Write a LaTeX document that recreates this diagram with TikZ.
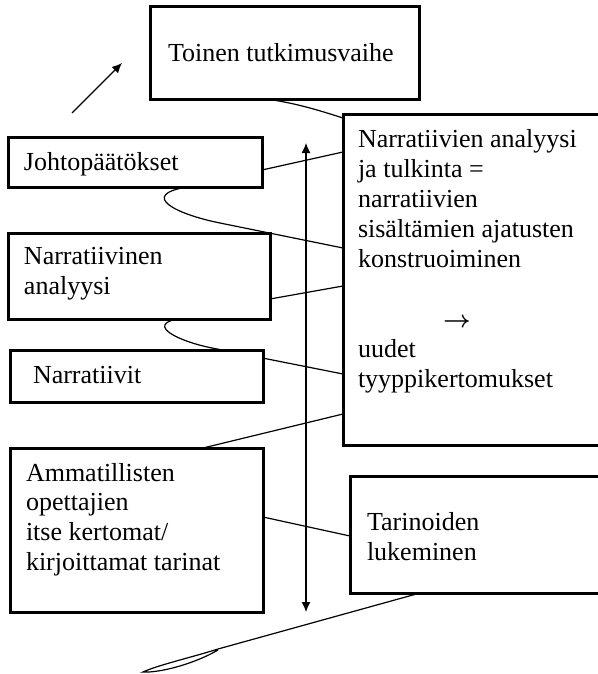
\documentclass[tikz,border=0pt]{standalone}
\usepackage{fontspec}
\setmainfont{Liberation Serif}
\usetikzlibrary{arrows.meta,calc,backgrounds}
\begin{document}
\begin{tikzpicture}[x=0.5pt,y=-0.5pt,
  box/.style={draw,line width=1.5pt,fill=white,rectangle,anchor=north west,inner sep=0pt,outer sep=0pt},
  txt/.style={anchor=base west,inner sep=0pt,outer sep=0pt,align=left,font=\fontsize{13}{14.8}\selectfont},
  conn/.style={line width=0.6pt},
  arr/.style={line width=0.6pt,-{Latex[length=5pt,width=4.5pt]}},
  darr/.style={line width=0.6pt,{Latex[length=5pt,width=4.5pt]}-{Latex[length=5pt,width=4.5pt]}}
]
\useasboundingbox (0,0) rectangle (598,674);
\clip (0,0) rectangle (598,674);

% boxes
\node[box,minimum width=134.5pt,minimum height=46.5pt] (toinen) at (150,7) {};
\node[box,minimum width=127pt,minimum height=25pt] (johto) at (8,137) {};
\node[box,minimum width=138.5pt,minimum height=165pt] (big) at (343,115) {};
\node[box,minimum width=131pt,minimum height=43pt] (narrativ) at (8,233) {};
\node[box,minimum width=126.5pt,minimum height=26pt] (narrit) at (10,350) {};
\node[box,minimum width=126.5pt,minimum height=82pt] (ammat) at (10,448) {};
\node[box,minimum width=135pt,minimum height=58.5pt] (tarin) at (350,476) {};

% texts (multi-line nodes are anchored at the baseline of their last line)
\node[txt] (t1) at (168,62) {Toinen tutkimusvaihe};
\node[txt] (t2) at (24,170) {Johtopäätökset};
\node[txt,font=\fontsize{13}{15}\selectfont] (t3) at (358,387) {Narratiivien analyysi\\ja tulkinta =\\narratiivien\\sisältämien ajatusten\\konstruoiminen\\[15pt]\hspace*{42.5pt}{\boldmath$\rightarrow$}\\uudet\\tyyppikertomukset};
\node[txt] (t4) at (24,294) {Narratiivinen\\analyysi};
\node[txt] (t5) at (33,383) {Narratiivit};
\node[txt] (t6) at (26,570) {Ammatillisten\\opettajien\\itse kertomat/\\kirjoittamat tarinat};
\node[txt] (t7) at (367,560) {Tarinoiden\\lukeminen};

% free points
\coordinate (kink) at (218,649);
\coordinate (tip) at (143,672);
\coordinate (arrS) at (72,113);
\coordinate (arrE) at (122,63);
\coordinate (vtop) at (306,143);
\coordinate (vbot) at (306,612);

% spiral connectors (behind boxes)
\begin{pgfonlayer}{background}
\draw[conn] ($(toinen.south west)+(123,0)$) .. controls +(25,4) and +(-25,-8) .. ($(big.north west)+(0,3)$);
\draw[conn] ($(big.north west)+(0,37)$) -- ($(johto.north east)+(0,33)$);
\draw[conn] ($(johto.south west)+(179,0)$) .. controls +(-48,8) and +(-45,-9) .. ($(narrativ.north east)+(-50,-10)$) -- ($(big.north west)+(0,133)$);
\draw[conn] ($(big.north west)+(0,171)$) -- ($(narrativ.north east)+(0,66)$);
\draw[conn] ($(narrativ.south west)+(169,0)$) .. controls +(-30,6) and +(-35,-7) .. ($(narrit.north west)+(202,-2)$) -- ($(big.north west)+(0,259)$);
\draw[conn] ($(big.south west)+(0,-31)$) -- ($(ammat.north west)+(193,0)$);
\draw[conn] ($(ammat.north east)+(0,69)$) -- ($(tarin.north west)+(0,60)$);
\draw[conn] ($(tarin.south west)+(70,0)$) -- (kink) .. controls +(-25,8) and +(15,-7) .. (tip) .. controls +(18,1) and +(-22,13) .. ($(kink)+(0,1)$);
\end{pgfonlayer}

% arrows
\draw[arr] (arrS) -- (arrE);
\draw[darr] (vtop) -- (vbot);
\end{tikzpicture}
\end{document}
